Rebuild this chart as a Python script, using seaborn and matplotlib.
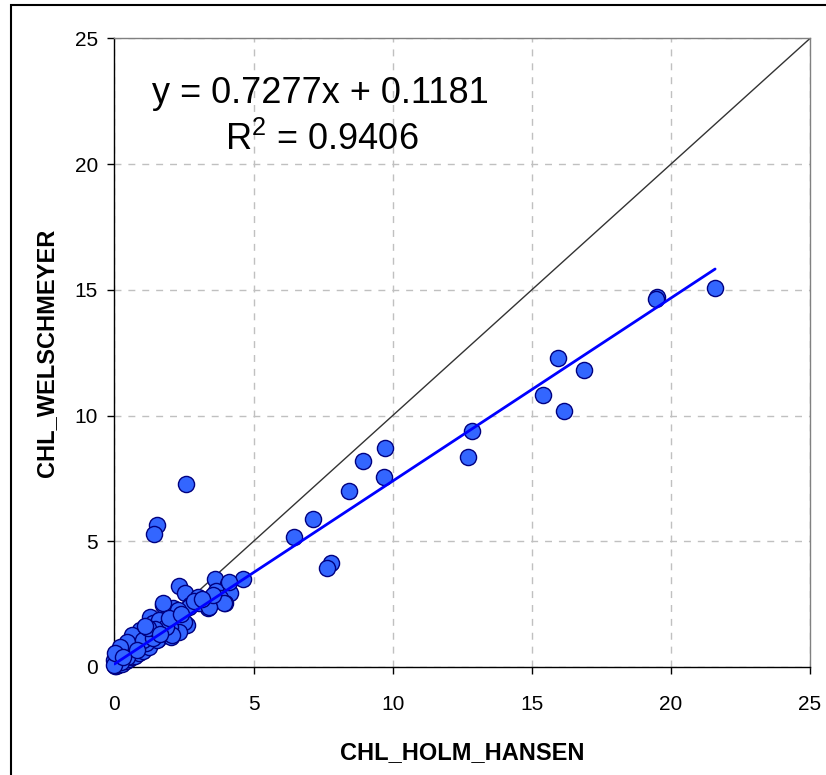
import matplotlib
matplotlib.use("Agg")
import matplotlib.pyplot as plt
import seaborn as sns
import numpy as np
import pandas as pd
from matplotlib.patches import Rectangle

# fit shown on the chart
slope = 0.7277
intercept = 0.1181
r_squared = 0.9406

# large / isolated samples
big_holm = [21.59, 19.50, 19.45, 15.93, 16.89, 15.39, 16.15, 12.85, 12.70, 9.73,
            9.68, 8.92, 8.43, 7.13, 6.44, 7.78, 7.63, 2.56, 1.54, 1.42]
big_welsch = [15.07, 14.73, 14.62, 12.29, 11.81, 10.81, 10.20, 9.39, 8.36, 8.72,
              7.54, 8.20, 7.01, 5.87, 5.17, 4.15, 3.92, 7.29, 5.66, 5.28]

# mid cluster (1-5)
mid_holm = [4.63, 3.61, 2.32, 4.09, 2.53, 3.01, 3.65, 4.15, 3.97, 3.37,
            2.71, 1.73, 2.11, 3.25, 3.79, 1.28, 2.29, 2.06, 1.82, 1.39,
            2.24, 2.60, 3.04, 2.68, 2.50, 2.32, 1.72, 2.14, 1.30, 0.94,
            1.54, 2.02, 1.12, 0.82, 0.70, 0.52, 0.34, 0.16, 0.46, 0.22,
            0.00, 0.00, 4.12, 3.94, 3.40, 1.74, 2.29, 0.92, 0.62, 0.44,
            1.04, 1.40, 1.75, 2.00, 2.06, 0.20, 0.02, 0.80, 0.32, 1.60,
            1.85, 1.45, 1.95, 2.40, 1.20, 1.65, 2.85, 3.55, 3.15, 1.10]
mid_welsch = [3.49, 3.50, 3.22, 3.30, 2.93, 2.80, 3.04, 2.93, 2.53, 2.33,
              2.47, 2.47, 2.33, 2.67, 2.73, 2.00, 2.07, 2.14, 1.87, 1.74,
              1.74, 1.67, 2.53, 2.40, 1.80, 1.40, 1.67, 2.13, 1.34, 1.21,
              1.07, 1.21, 0.94, 0.81, 1.07, 0.88, 0.61, 0.48, 0.41, 0.21,
              0.28, 0.08, 3.36, 2.54, 2.37, 2.53, 2.27, 1.47, 1.27, 1.01,
              1.07, 1.14, 1.34, 1.60, 1.27, 0.81, 0.54, 0.68, 0.41, 1.85,
              1.58, 1.52, 1.95, 2.10, 1.55, 1.30, 2.62, 2.85, 2.70, 1.62]

# dense cluster near the origin
low_holm = [0.02, 0.04, 0.05, 0.07, 0.08, 0.10, 0.11, 0.12, 0.14, 0.15,
            0.17, 0.18, 0.20, 0.21, 0.23, 0.25, 0.26, 0.28, 0.30, 0.31,
            0.33, 0.35, 0.36, 0.38, 0.40, 0.41, 0.43, 0.45, 0.47, 0.49,
            0.50, 0.52, 0.54, 0.56, 0.58, 0.60, 0.62, 0.64, 0.66, 0.68,
            0.70, 0.72, 0.74, 0.76, 0.78, 0.80, 0.83, 0.85, 0.88, 0.90,
            0.93, 0.95, 0.98, 1.00, 1.03, 1.06, 1.09, 1.12, 1.15, 1.18,
            1.22, 1.25, 1.28, 1.32, 1.36, 1.40, 1.45, 1.50, 1.55, 1.60,
            1.66, 1.72, 1.78, 1.85, 1.92, 0.03, 0.06, 0.09, 0.13, 0.16,
            0.19, 0.24, 0.27, 0.32, 0.37, 0.42, 0.46, 0.51, 0.57, 0.63,
            0.69, 0.75, 0.81, 0.87, 0.96, 1.04, 1.14, 1.24, 1.35]
low_welsch = [0.05, 0.12, 0.02, 0.18, 0.08, 0.22, 0.06, 0.30, 0.13, 0.35,
              0.20, 0.10, 0.38, 0.24, 0.17, 0.44, 0.30, 0.22, 0.50, 0.34,
              0.26, 0.55, 0.40, 0.31, 0.62, 0.45, 0.36, 0.68, 0.50, 0.40,
              0.74, 0.55, 0.44, 0.80, 0.60, 0.48, 0.86, 0.66, 0.53, 0.92,
              0.70, 0.58, 0.98, 0.76, 0.62, 1.02, 0.82, 0.68, 1.10, 0.86,
              0.74, 1.15, 0.92, 0.80, 1.22, 0.98, 0.86, 1.30, 1.05, 0.92,
              1.38, 1.12, 0.98, 1.46, 1.18, 1.04, 1.55, 1.25, 1.12, 1.62,
              1.35, 1.28, 1.70, 1.48, 1.42, 0.25, 0.40, 0.14, 0.50, 0.28,
              0.55, 0.60, 0.12, 0.66, 0.72, 0.25, 0.82, 0.30, 0.95, 0.38,
              1.00, 0.45, 1.15, 0.55, 1.25, 0.65, 1.40, 0.78, 1.55]

axis_ticks = [0, 5, 10, 15, 20, 25]

df = pd.DataFrame({
    "CHL_HOLM_HANSEN": low_holm + mid_holm + big_holm,
    "CHL_WELSCHMEYER": low_welsch + mid_welsch + big_welsch,
})

sns.set_theme(style="white")
plt.rcParams["font.family"] = ["Liberation Sans", "DejaVu Sans"]
plt.rcParams["mathtext.fontset"] = "custom"
plt.rcParams["mathtext.rm"] = "Liberation Sans"
plt.rcParams["mathtext.it"] = "Liberation Sans"
plt.rcParams["text.color"] = "black"
plt.rcParams["axes.labelcolor"] = "black"

fig = plt.figure(figsize=(8.26, 7.75), dpi=100)
ax = fig.add_axes([0.1386, 0.1394, 0.842, 0.811])

# 1:1 line
ax.plot([0, 25], [0, 25], color="#333333", lw=1.0, zorder=2)

sns.scatterplot(data=df, x="CHL_HOLM_HANSEN", y="CHL_WELSCHMEYER", ax=ax,
                s=135, color="#3366FF", edgecolor="#000080", linewidth=1.0,
                zorder=3, clip_on=False)

# trend line over the data range
xfit = np.array([df["CHL_HOLM_HANSEN"].min(), df["CHL_HOLM_HANSEN"].max()])
ax.plot(xfit, slope * xfit + intercept, color="#0000FF", lw=2.0, zorder=4)

ax.text(7.4, 22.8, f"y = {slope}x + {intercept}", fontsize=26, ha="center", va="center")
ax.text(7.45, 20.95, rf"R$^2$ = {r_squared}", fontsize=26, ha="center", va="center")

ax.set_xlim(0, 25)
ax.set_ylim(0, 25)
ax.set_xticks(axis_ticks)
ax.set_yticks(axis_ticks)
ax.grid(True, linestyle=(0, (5, 5)), color="#c0c0c0", lw=1)
ax.set_axisbelow(True)

ax.tick_params(axis="both", direction="out", length=5, width=1, color="black",
               labelsize=15, labelcolor="black")
ax.tick_params(axis="x", pad=15, bottom=True)
ax.tick_params(axis="y", pad=7, left=True)

for side in ["left", "bottom"]:
    ax.spines[side].set_color("black")
    ax.spines[side].set_linewidth(1)
for side in ["top", "right"]:
    ax.spines[side].set_color("#808080")
    ax.spines[side].set_linewidth(1)

ax.set_xlabel("CHL_HOLM_HANSEN", fontsize=17, fontweight="bold", labelpad=20)
ax.set_ylabel("CHL_WELSCHMEYER", fontsize=17, fontweight="bold", labelpad=12)

# outer frame round the chart
fig.patches.append(Rectangle((11 / 826, -0.01), 0.99, 1.01 - 5 / 775, transform=fig.transFigure,
                             fill=False, edgecolor="black", lw=1.5))

fig.savefig("out.png", dpi=100)
